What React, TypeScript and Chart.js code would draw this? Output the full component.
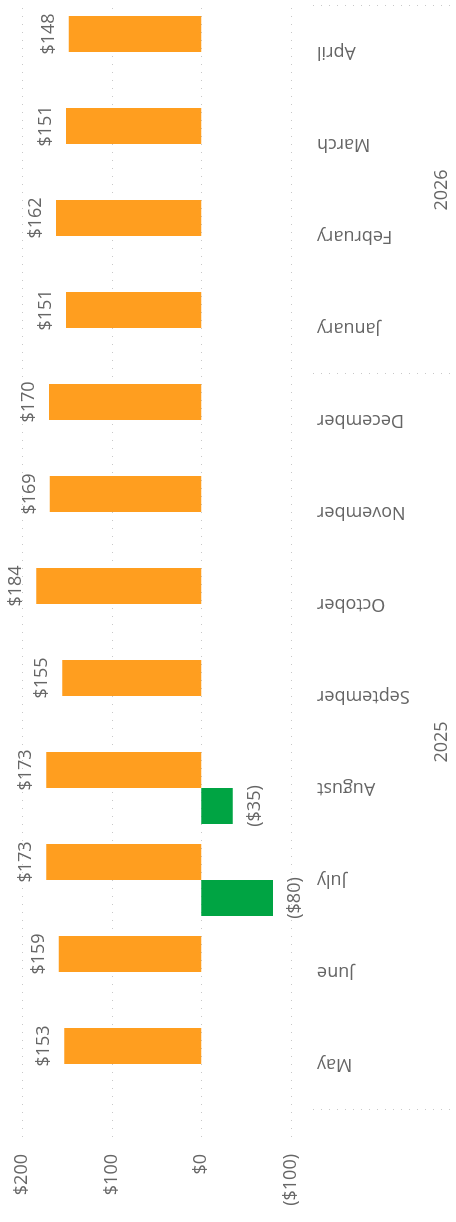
import React, { useEffect, useRef } from "react";
import { Chart, registerables } from "chart.js";

Chart.register(...registerables);

const months = ["May", "June", "July", "August", "September", "October", "November", "December", "January", "February", "March", "April"];
const years = ["2025", "2026"];
const yearSpans = [[0, 7], [8, 11]];
const positiveValues = [153, 159, 173, 173, 155, 184, 169, 170, 151, 162, 151, 148];
const negativeValues = [null, null, -80, -35, null, null, null, null, null, null, null, null];
const valueTicks = [-100, 0, 100, 200];

const ORANGE = "#FF9E1F";
const GREEN = "#00A443";
const TEXT = "#666666";
const GRID = "#C8C8C8";
const FONT = "'Open Sans', sans-serif";

const fmt = (v: number) => (v < 0 ? `($${Math.abs(v)})` : `$${v}`);

const W = 1222;
const H = 456;

const decorPlugin = {
  id: "decor",
  beforeDatasetsDraw(chart: any) {
    const { ctx, chartArea, scales } = chart;
    const y = scales.y;
    ctx.save();
    ctx.strokeStyle = GRID;
    ctx.lineWidth = 1;
    ctx.setLineDash([1, 7]);
    valueTicks.forEach((v) => {
      const py = Math.round(y.getPixelForValue(v)) + 0.5;
      ctx.beginPath();
      ctx.moveTo(chartArea.left - 27, py);
      ctx.lineTo(chartArea.right, py);
      ctx.stroke();
    });
    ctx.restore();
  },
  afterDatasetsDraw(chart: any) {
    const { ctx, chartArea, scales } = chart;
    const x = scales.x;
    ctx.save();
    // data labels
    ctx.font = `18px ${FONT}`;
    ctx.fillStyle = TEXT;
    ctx.textAlign = "center";
    chart.data.datasets.forEach((ds: any, di: number) => {
      const meta = chart.getDatasetMeta(di);
      meta.data.forEach((bar: any, i: number) => {
        const v = ds.data[i];
        if (v === null || v === undefined) return;
        if (v >= 0) {
          ctx.textBaseline = "alphabetic";
          ctx.fillText(fmt(v), bar.x, bar.y - 15);
        } else {
          ctx.textBaseline = "top";
          ctx.fillText(fmt(v), bar.x, bar.y + 13);
        }
      });
    });
    // year separators
    const half = (x.getPixelForValue(1) - x.getPixelForValue(0)) / 2;
    const seps = [x.getPixelForValue(0) - half, x.getPixelForValue(7) + half, x.getPixelForValue(11) + half];
    ctx.strokeStyle = GRID;
    ctx.lineWidth = 1;
    ctx.setLineDash([1, 7]);
    seps.forEach((sx) => {
      const px = Math.round(sx) + 0.5;
      ctx.beginPath();
      ctx.moveTo(px, chartArea.bottom + 22);
      ctx.lineTo(px, H);
      ctx.stroke();
    });
    // year labels
    ctx.setLineDash([]);
    ctx.textAlign = "center";
    ctx.textBaseline = "alphabetic";
    years.forEach((yr, k) => {
      const [a, b] = yearSpans[k];
      const cx = (x.getPixelForValue(a) + x.getPixelForValue(b)) / 2;
      ctx.fillText(yr, cx, H - 9);
    });
    ctx.restore();
  },
};

export default function App() {
  const ref = useRef<HTMLCanvasElement | null>(null);

  useEffect(() => {
    if (!ref.current) return;
    const chart = new Chart(ref.current, {
      type: "bar",
      data: {
        labels: months,
        datasets: [
          { label: "Negative", data: negativeValues as any, backgroundColor: GREEN, borderWidth: 0 },
          { label: "Positive", data: positiveValues, backgroundColor: ORANGE, borderWidth: 0 },
        ],
      },
      options: {
        responsive: false,
        animation: false,
        events: [],
        layout: { padding: { top: 22, right: 6, bottom: 0, left: 0 } },
        datasets: { bar: { categoryPercentage: 72 / 92, barPercentage: 1 } },
        plugins: { legend: { display: false }, tooltip: { enabled: false }, title: { display: false } },
        scales: {
          x: {
            type: "category",
            offset: true,
            grid: { display: false, drawTicks: false },
            border: { display: false },
            ticks: {
              autoSkip: false,
              minRotation: 90,
              maxRotation: 90,
              padding: 26,
              color: TEXT,
              font: { family: FONT, size: 18 },
            },
            afterFit: (s: any) => {
              s.height = 165;
              s.paddingLeft = 0;
              s.paddingRight = 0;
            },
          },
          y: {
            min: -100,
            max: 200,
            grid: { display: false, drawTicks: false },
            border: { display: false },
            ticks: {
              stepSize: 100,
              padding: 44,
              color: TEXT,
              font: { family: FONT, size: 18 },
              callback: (v: any) => fmt(Number(v)),
            },
            afterFit: (s: any) => {
              s.width = 112;
              s.paddingTop = 0;
              s.paddingBottom = 0;
            },
          },
        },
      },
      plugins: [decorPlugin],
    });
    return () => chart.destroy();
  }, []);

  return (
    <div style={{ position: "fixed", left: 0, top: 0, width: H, height: W, overflow: "hidden", background: "#fff" }}>
      <div
        style={{
          position: "absolute",
          left: 0,
          top: 0,
          width: W,
          height: H,
          transformOrigin: "0 0",
          transform: `translateY(${W}px) rotate(-90deg)`,
        }}
      >
        <canvas ref={ref} width={W} height={H} style={{ width: W, height: H, display: "block" }} />
      </div>
    </div>
  );
}
